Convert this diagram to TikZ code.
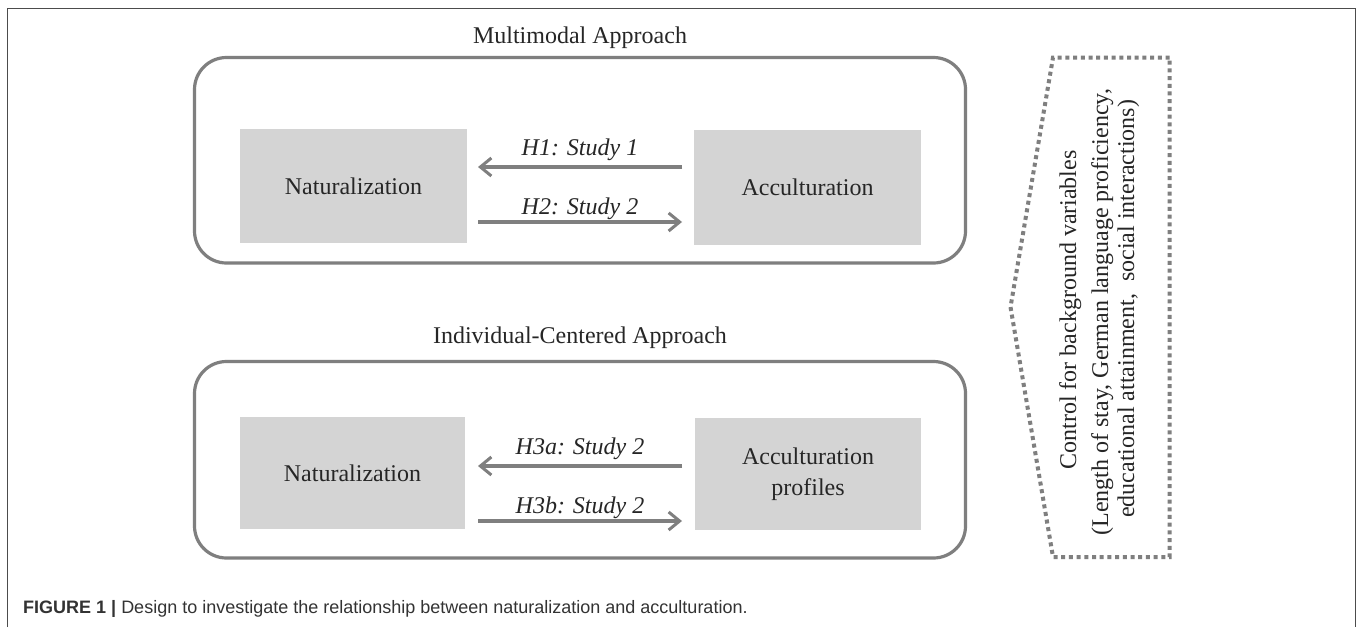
\documentclass[tikz,border=0pt]{standalone}
\usepackage{fontspec}
\setmainfont{Liberation Serif}
\newfontfamily\capfont{Liberation Sans}
\definecolor{boxgray}{HTML}{D4D4D4}
\definecolor{linegray}{HTML}{7F7F7F}
\tikzset{
  panel/.style={draw=linegray,line width=3.2pt,rounded corners=32pt,fill=none},
  grayblock/.style={fill=boxgray,draw=none,align=center,text=black!85,font=\fontsize{24}{31}\selectfont,inner sep=0pt},
  relarrow/.style={draw=linegray,line width=4pt,-{Straight Barb[length=11pt,width=18pt,line width=3pt]}},
  rellabel/.style={anchor=base,font=\itshape\fontsize{24}{28}\selectfont,text=black!85,inner sep=0pt},
  heading/.style={anchor=base,font=\fontsize{24}{28}\selectfont,text=black!85,inner sep=0pt},
  ctrltext/.style={anchor=base,rotate=90,font=\fontsize{24}{28}\selectfont,text=black!85,inner sep=0pt},
}
\usetikzlibrary{arrows.meta}
\begin{document}
\begin{tikzpicture}[x=1pt,y=-1pt]
\useasboundingbox (0,0) rectangle (1357,627);
\fill[white] (0,0) rectangle (1357,627);
% outer frame
\draw[black!70,line width=1pt] (7.5,627) -- (7.5,8.5) -- (1355.5,8.5) -- (1355.5,627);
% panels
\node[heading] (t1) at (580,43) {Multimodal Approach};
\draw[panel] (194.5,57.5) rectangle (965.5,263);
\node[heading] (t2) at (580,343) {Individual-Centered Approach};
\draw[panel] (194.5,361.5) rectangle (965.5,558);
% blocks
\node[grayblock,minimum width=227pt,minimum height=114pt] (n1) at (353.5,186) {Naturalization};
\node[grayblock,minimum width=227pt,minimum height=115pt] (a1) at (807.5,187.5) {Acculturation};
\node[grayblock,minimum width=225pt,minimum height=112pt] (n2) at (352.5,473) {Naturalization};
\node[grayblock,minimum width=226pt,minimum height=112pt] (a2) at (808,474) {Acculturation\\profiles};
% helpers for arrow rows
\coordinate (l1) at (478,167);
\coordinate (r1) at (682,167);
\coordinate (l2) at (478,222);
\coordinate (r2) at (682,222);
\coordinate (l3) at (478,466);
\coordinate (r3) at (682,466);
\coordinate (l4) at (478,521);
\coordinate (r4) at (682,521);
\draw[relarrow] (r1) -- (l1);
\draw[relarrow] (l2) -- (r2);
\draw[relarrow] (r3) -- (l3);
\draw[relarrow] (l4) -- (r4);
\node[rellabel] (h1) at (580,155) {H1: Study 1};
\node[rellabel] (h2) at (580,214) {H2: Study 2};
\node[rellabel] (h3) at (580,454) {H3a: Study 2};
\node[rellabel] (h4) at (580,513) {H3b: Study 2};
% pentagon
\draw[linegray,line width=4pt,dash pattern=on 4pt off 3.7pt]
  (1169.5,57.5) -- (1053,57.5) -- (1010.5,307) -- (1053,557) -- (1169.5,557) -- cycle;
\node[ctrltext] (c1) at (1076,310) {Control for background variables};
\node[ctrltext] (c2) at (1108,312) {(Length of stay, German language proficiency,};
\node[ctrltext] (c3) at (1134,309) {educational attainment,\ \ social interactions)};
% caption
\node[anchor=base west,inner sep=0pt,font=\capfont\fontsize{18}{22}\selectfont,text=black!80] (cap) at (23,613)
  {\textbf{FIGURE 1 |} Design to investigate the relationship between naturalization and acculturation.};
\end{tikzpicture}
\end{document}
